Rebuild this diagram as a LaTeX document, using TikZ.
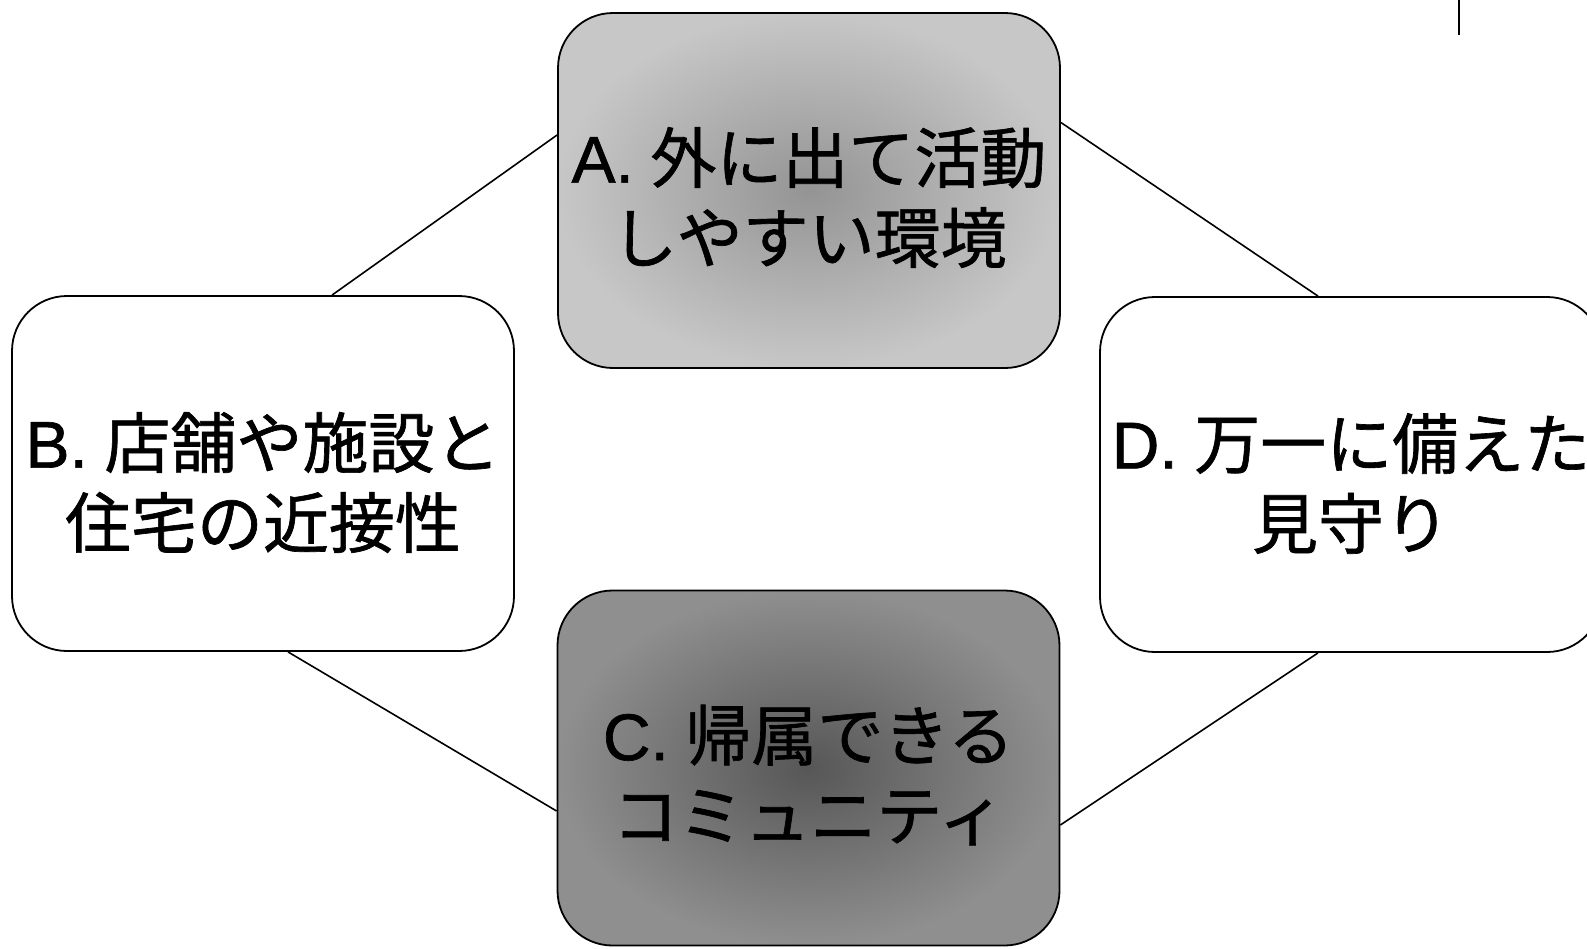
\documentclass[tikz,border=0pt]{standalone}
\usepackage{fontspec}
\newfontfamily\cjk[FakeBold=1]{Noto Sans CJK JP}
\newfontfamily\lat[FakeBold=1]{Liberation Sans}
\newcommand{\latlbl}[1]{{\lat #1}\hspace{0.25em}}
\begin{document}
\begin{tikzpicture}[x=1pt,y=-1pt,
  box/.style={draw=black, line width=1.8pt, rounded corners=55pt,
    minimum width=502pt, minimum height=355pt, inner sep=0pt},
  lbl/.style={inner sep=0pt, align=center, font=\fontsize{66}{80}\selectfont\cjk},
  lightbox/.style={box, inner color=black!42, outer color=black!22},
  darkbox/.style={box, inner color=black!66, outer color=black!44},
  plainbox/.style={box, fill=white},
  link/.style={line width=1.6pt}]
\useasboundingbox (0,0) rectangle (1587,948);
\clip (0,0) rectangle (1587,948);
\node[lightbox] (A) at (809,190.5) {};
\node[plainbox] (B) at (263,473.5) {};
\node[darkbox] (C) at (808.5,768) {};
\node[plainbox] (D) at (1351,474.5) {};
\node[lbl] (At) at ([yshift=-7pt]A.center) {\latlbl{A.}外に出て活動\\しやすい環境};
\node[lbl] (Bt) at ([yshift=-9pt]B.center) {\latlbl{B.}店舗や施設と\\住宅の近接性};
\node[lbl] (Ct) at ([yshift=-7pt]C.center) {\latlbl{C.}帰属できる\\コミュニティ};
\node[lbl] (Dt) at ([yshift=-9pt]D.center) {\latlbl{D.}万一に備えた\\見守り};
\draw[link] ([yshift=55.5pt]A.west) -- ([xshift=69pt]B.north);
\draw[link] ([yshift=68pt]A.east) -- ([xshift=-33pt]D.north);
\draw[link] ([xshift=25pt]B.south) -- ([yshift=-43pt]C.west);
\draw[link] ([yshift=-57pt]C.east) -- ([xshift=-33pt]D.south);
\coordinate (m1) at (1459,0);
\coordinate (m2) at (1459,35);
\draw[line width=2.5pt] (m1) -- (m2);
\end{tikzpicture}
\end{document}
